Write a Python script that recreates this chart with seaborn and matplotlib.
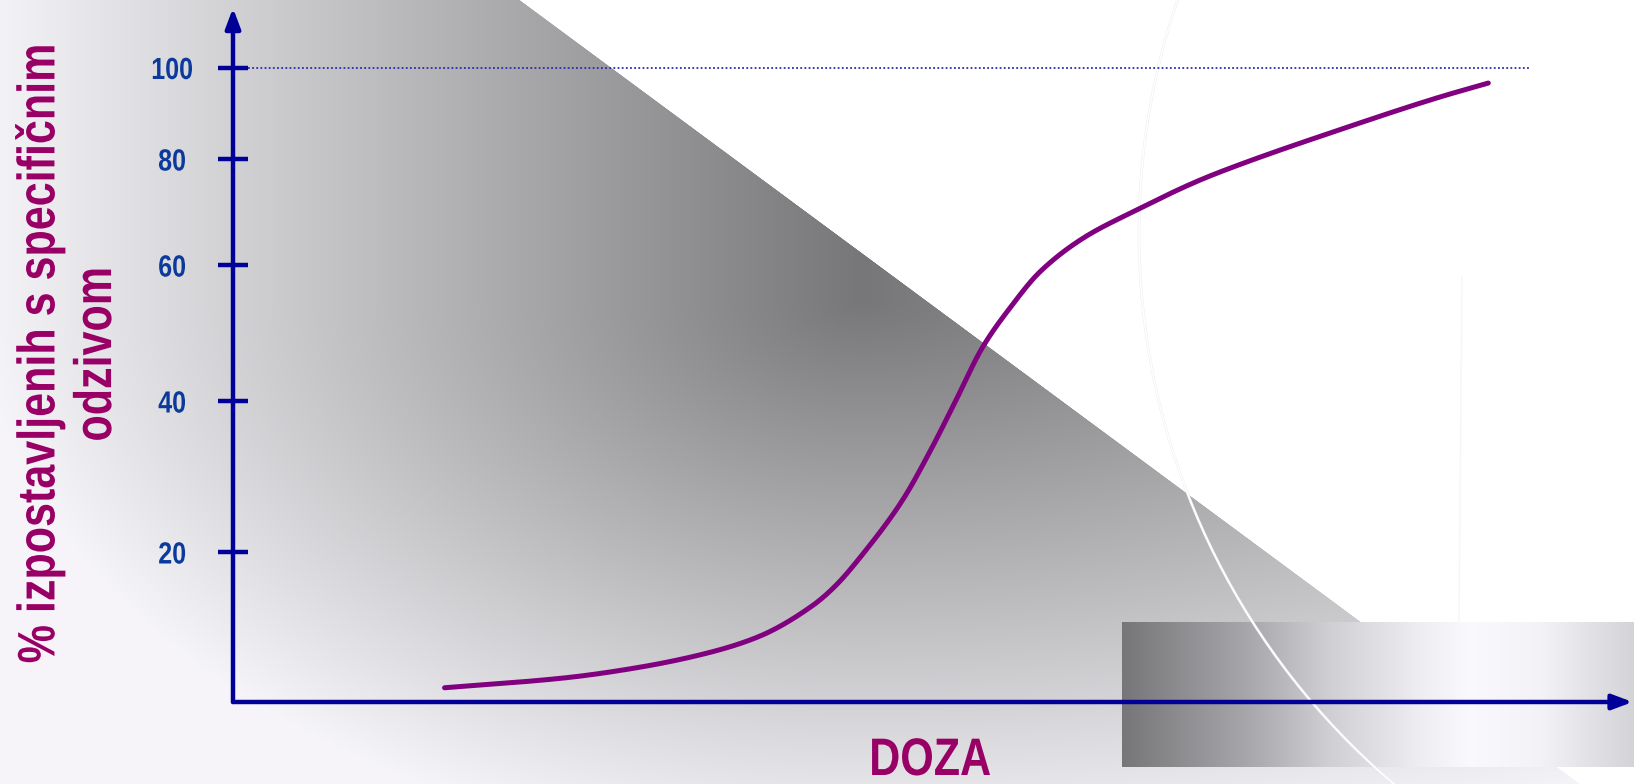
import numpy as np
import matplotlib
matplotlib.use("Agg")
import matplotlib.pyplot as plt
from matplotlib import font_manager
from matplotlib.patches import Circle
from matplotlib.patheffects import AbstractPathEffect
from matplotlib.transforms import Affine2D
import seaborn as sns

# ---- data -------------------------------------------------------------
dose = [15.1, 23.6, 28.6, 33.8, 37.5, 41.4, 42.9, 45.2, 47.8, 49.8, 51.6,
        53.5, 55.5, 57.6, 60.7, 64.2, 69.0, 71.6, 78.9, 86.2, 89.6]
response = [1.9, 3.2, 4.5, 6.5, 8.7, 12.9, 15.3, 20.3, 26.9, 33.5, 40.1,
            47.9, 53.8, 59.0, 65.1, 70.0, 76.0, 78.7, 86.3, 93.6, 96.6]
y_ticks = [20, 40, 60, 80, 100]
y_tick_labels = ["20", "40", "60", "80", "100"]
y_label = "% izpostavljenih s specifičnim\nodzivom"
x_label = "DOZA"

# ---- style ------------------------------------------------------------
sns.set_style("white")
names = {f.name for f in font_manager.fontManager.ttflist}
narrow = "Liberation Sans Narrow" in names
base_font = "Liberation Sans Narrow" if narrow else "Liberation Sans"
plt.rcParams["font.family"] = [base_font, "DejaVu Sans"]
# tall, condensed lettering: glyphs drawn taller than their advance width
TALL = 1.0 if narrow else 38 / 31
SQ = 1.0 if narrow else 0.82


class Affine(AbstractPathEffect):
    """Scale glyph outlines about a fixed display point."""

    def __init__(self, sx=1.0, sy=1.0, cx=0.0, cy=0.0):
        super().__init__()
        self._t = Affine2D().translate(-cx, -cy).scale(sx, sy).translate(cx, cy)

    def draw_path(self, renderer, gc, tpath, affine, rgbFace=None):
        renderer.draw_path(gc, tpath, affine + self._t, rgbFace)


NAVY = "#000099"
TICK_TXT = "#0b3a9c"
MAGENTA = "#990066"
CURVE = "#800080"

W, H = 1634, 784
fig = plt.figure(figsize=(W / 100, H / 100), dpi=100)

# ---- slide background -------------------------------------------------
bg_ax = fig.add_axes([0, 0, 1, 1], zorder=0)
bg_ax.axis("off")

yy, xx = np.mgrid[0:H, 0:W] + 0.5
xdiag = 519.6 + 1.3525 * yy
cover = np.clip(xdiag - xx + 0.5, 0, 1)[..., None]
tx = np.where(xx < 860, (860 - xx) / 880, (xx - 860) / 1500)
tx = np.clip(tx, 0, 1)
ty = np.clip((yy - 300) / 560, 0, 1)
t = np.clip(np.sqrt(tx ** 2 + ty ** 2), 0, 1)[..., None]
dark = np.array([0.467, 0.467, 0.475])
light = np.array([0.965, 0.960, 0.975])
gray = dark + (light - dark) * t
img = gray * cover + np.ones(3) * (1 - cover)

# shaded band in the lower right corner
x0, x1, y0, y1 = 1122, W, 622, 767
stops_x = [1122, 1250, 1330, 1420, 1470, 1540, 1634]
stops_v = [0.463, 0.66, 0.815, 0.935, 0.98, 0.955, 0.83]
cols = np.arange(x0, x1) + 0.5
v = np.interp(cols, stops_x, stops_v)
band = np.stack([v, v * 0.995, np.minimum(v * 1.01 + 0.005, 1)], axis=-1)
img[y0:y1, x0:x1, :] = band[None, :, :]

bg_ax.imshow(img, extent=(0, W, H, 0), interpolation="nearest", aspect="auto")
bg_ax.add_patch(Circle((1862, 233), 723, fill=False, ec="#efeff3", lw=1.9))
bg_ax.add_patch(Circle((1862, 233), 723, fill=False, ec="white", lw=1.1))
bg_ax.plot([1462, 1459], [277, 622], color="#f6f6f8", lw=1)
bg_ax.set_xlim(0, W)
bg_ax.set_ylim(H, 0)

# ---- chart axes -------------------------------------------------------
left, bottom = 233, 82
ax_w, ax_h = W - left, 634.5
ax = fig.add_axes([left / W, bottom / H, ax_w / W, ax_h / H], zorder=2)
ax.patch.set_alpha(0)

# response axis spacing of the chart
val_knots = np.array([0, 20, 40, 60, 80, 100], dtype=float)
pos_knots = np.array([0, 150, 301, 437, 543, 634.5])


def fwd(v):
    v = np.asarray(v, dtype=float)
    out = np.interp(v, val_knots, pos_knots)
    lo = (pos_knots[1] - pos_knots[0]) / (val_knots[1] - val_knots[0])
    hi = (pos_knots[-1] - pos_knots[-2]) / (val_knots[-1] - val_knots[-2])
    out = np.where(v < val_knots[0], pos_knots[0] + (v - val_knots[0]) * lo, out)
    out = np.where(v > val_knots[-1], pos_knots[-1] + (v - val_knots[-1]) * hi, out)
    return out


def inv(p):
    p = np.asarray(p, dtype=float)
    out = np.interp(p, pos_knots, val_knots)
    lo = (val_knots[1] - val_knots[0]) / (pos_knots[1] - pos_knots[0])
    hi = (val_knots[-1] - val_knots[-2]) / (pos_knots[-1] - pos_knots[-2])
    out = np.where(p < pos_knots[0], val_knots[0] + (p - pos_knots[0]) * lo, out)
    out = np.where(p > pos_knots[-1], val_knots[-1] + (p - pos_knots[-1]) * hi, out)
    return out


def pchip(x, y, xs):
    """Shape-preserving cubic through (x, y), evaluated at xs."""
    x = np.asarray(x, float)
    y = np.asarray(y, float)
    h = np.diff(x)
    d = np.diff(y) / h
    m = np.zeros_like(y)
    for k in range(1, len(x) - 1):
        if d[k - 1] * d[k] > 0:
            w1 = 2 * h[k] + h[k - 1]
            w2 = h[k] + 2 * h[k - 1]
            m[k] = (w1 + w2) / (w1 / d[k - 1] + w2 / d[k])
    m[0] = d[0]
    m[-1] = d[-1]
    idx = np.clip(np.searchsorted(x, xs) - 1, 0, len(x) - 2)
    t = (xs - x[idx]) / h[idx]
    h00 = 2 * t ** 3 - 3 * t ** 2 + 1
    h10 = t ** 3 - 2 * t ** 2 + t
    h01 = -2 * t ** 3 + 3 * t ** 2
    h11 = t ** 3 - t ** 2
    return (h00 * y[idx] + h10 * h[idx] * m[idx]
            + h01 * y[idx + 1] + h11 * h[idx] * m[idx + 1])


# smooth dose-response curve through the read points
xs = np.linspace(dose[0], dose[-1], 600)
smooth_resp = inv(pchip(dose, fwd(response), xs))
sns.lineplot(x=xs, y=smooth_resp, ax=ax, color=CURVE, lw=3.6, zorder=3)

ax.set_yscale("function", functions=(fwd, inv))
ax.set_ylim(0, 100)
ax.set_xlim(0, 100)

for s in ax.spines.values():
    s.set_visible(False)
ax.set_xticks([])
ax.set_yticks(y_ticks)
ax.set_yticklabels(y_tick_labels)
ax.tick_params(axis="y", left=True, right=False, direction="inout",
               length=21.6, width=3.2, color=NAVY, pad=33, labelsize=22,
               labelcolor=TICK_TXT)
for tk in ax.yaxis.get_major_ticks():
    tk.tick1line.set_zorder(4)
for lab in ax.get_yticklabels():
    lab.set_horizontalalignment("center")
    lab.set_fontweight("bold")
    lab.set_path_effects([Affine(sx=SQ, cx=172)])
ax.set_xlabel("")
ax.set_ylabel("")

# 100 % reference line
ax.hlines(100, 1.07, 92.6, colors="#2b2bb0", linestyles=(0, (1, 1.3)),
          lw=1.3, clip_on=False, zorder=2)

# arrowed axes
top_frac = (702 - 8) / ax_h
arrow = dict(arrowstyle="-|>,head_length=1.2,head_width=0.45", lw=3.2,
             color=NAVY, shrinkA=0, shrinkB=0, mutation_scale=10)
ax.annotate("", xy=(0, top_frac), xytext=(0, 0), xycoords="axes fraction",
            textcoords="axes fraction", arrowprops=arrow, annotation_clip=False)
ax.annotate("", xy=(0.999, 0), xytext=(0, 0), xycoords="axes fraction",
            textcoords="axes fraction", arrowprops=arrow, annotation_clip=False)

# axis titles
title_size = 38 / TALL
ylab_x = 14
fig.text(ylab_x / W, (H - 354.5) / H, y_label, rotation=90, ha="left",
         va="center", multialignment="center", fontsize=title_size,
         fontweight="bold", color=MAGENTA, zorder=5,
         path_effects=[Affine(sx=TALL, cx=ylab_x)])
doza_base = 9
fig.text(930 / W, doza_base / H, x_label, ha="center", va="baseline",
         fontsize=title_size, fontweight="bold", color=MAGENTA, zorder=5,
         path_effects=[Affine(sy=TALL, cy=doza_base)])

fig.savefig("out.png", dpi=100)
